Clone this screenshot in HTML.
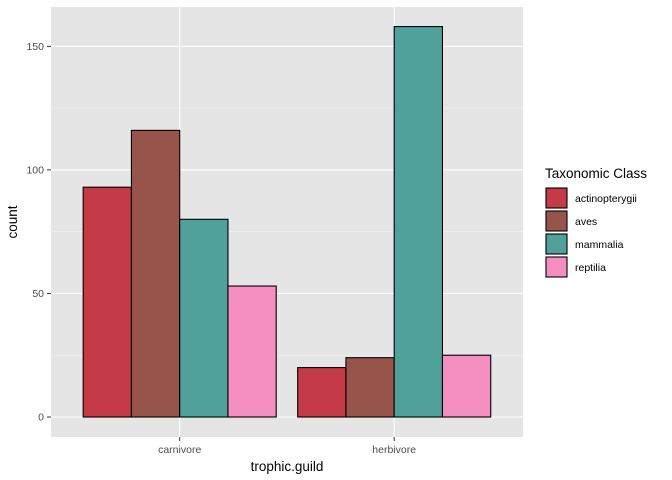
<!DOCTYPE html>
<html><head><meta charset="utf-8"><style>
body{margin:0;background:#fff;}
svg{display:block;font-family:"Liberation Sans",Arial,sans-serif;}
</style></head><body>
<svg id="chart" width="672" height="480">
<rect x="51" y="7" width="472" height="430" fill="#e5e5e5"/>
<g id="grid"></g><g id="bars"></g><g id="axes"></g><g id="legend"></g>
</svg>
<script>
const categories = ["carnivore","herbivore"];
const classes = ["actinopterygii","aves","mammalia","reptilia"];
const actinopterygii = [93,20];
const aves = [116,24];
const mammalia = [80,158];
const reptilia = [53,25];
const yTicks = [0,50,100,150];
const yMinor = [25,75,125];
const colors = ["#c43b47","#97544b","#4fa19a","#f48fbf"];
const series=[actinopterygii,aves,mammalia,reptilia];
const NS="http://www.w3.org/2000/svg";
function mk(t,a,p){const e=document.createElementNS(NS,t);for(const k in a)e.setAttribute(k,a[k]);p.appendChild(e);return e;}
const y0=417, pxu=2.471;
function y(v){return y0-v*pxu;}
const unit=214.5, left=51;
function x(i){return left+(0.6+i)*unit;}
const grid=document.getElementById('grid'),bars=document.getElementById('bars'),axes=document.getElementById('axes'),leg=document.getElementById('legend');
yMinor.forEach(v=>{const l=mk('line',{x1:51,x2:523,y1:y(v),y2:y(v),stroke:'#f2f2f2','stroke-width':0.6},grid);

});
yTicks.forEach(v=>{const l=mk('line',{x1:51,x2:523,y1:y(v),y2:y(v),stroke:'#fff','stroke-width':1.1},grid);


const t=mk('line',{x1:47,x2:51,y1:y(v),y2:y(v),stroke:'#333','stroke-width':1},axes);


const tx=mk('text',{x:44,y:y(v)+3.5,'text-anchor':'end','font-size':'10.5',fill:'#4d4d4d'},axes);tx.textContent=v;

});
categories.forEach((c,i)=>{const l=mk('line',{x1:x(i),x2:x(i),y1:7,y2:437,stroke:'#fff','stroke-width':1.1},grid);


const t=mk('line',{x1:x(i),x2:x(i),y1:437,y2:441,stroke:'#333'},axes);


const tx=mk('text',{x:x(i),y:453,'text-anchor':'middle','font-size':'10.5',fill:'#4d4d4d'},axes);tx.textContent=c;


const bw=0.9*unit/4;
series.forEach((s,j)=>{const bx=x(i)-0.45*unit+j*bw;
const r=mk('rect',{x:bx,y:y(s[i]),width:bw,height:y(0)-y(s[i]),fill:colors[j],stroke:'#000','stroke-width':1.1},bars);

});});
let t=mk('text',{x:287,y:471,'text-anchor':'middle','font-size':'13.5',fill:'#000'},axes);t.textContent='trophic.guild';


t=mk('text',{x:0,y:0,transform:'translate(17,222) rotate(-90)','text-anchor':'middle','font-size':'13.5',fill:'#000'},axes);t.textContent='count';


t=mk('text',{x:545,y:178,'font-size':'13.5',fill:'#000'},leg);t.textContent='Taxonomic Class';


classes.forEach((c,j)=>{const ky=188+j*23;
const r=mk('rect',{x:546,y:ky,width:21,height:20,fill:colors[j],stroke:'#000','stroke-width':1.1},leg);


const tx=mk('text',{x:575,y:ky+14,'font-size':'10.5',fill:'#000'},leg);tx.textContent=c;

});
</script>
</body></html>
